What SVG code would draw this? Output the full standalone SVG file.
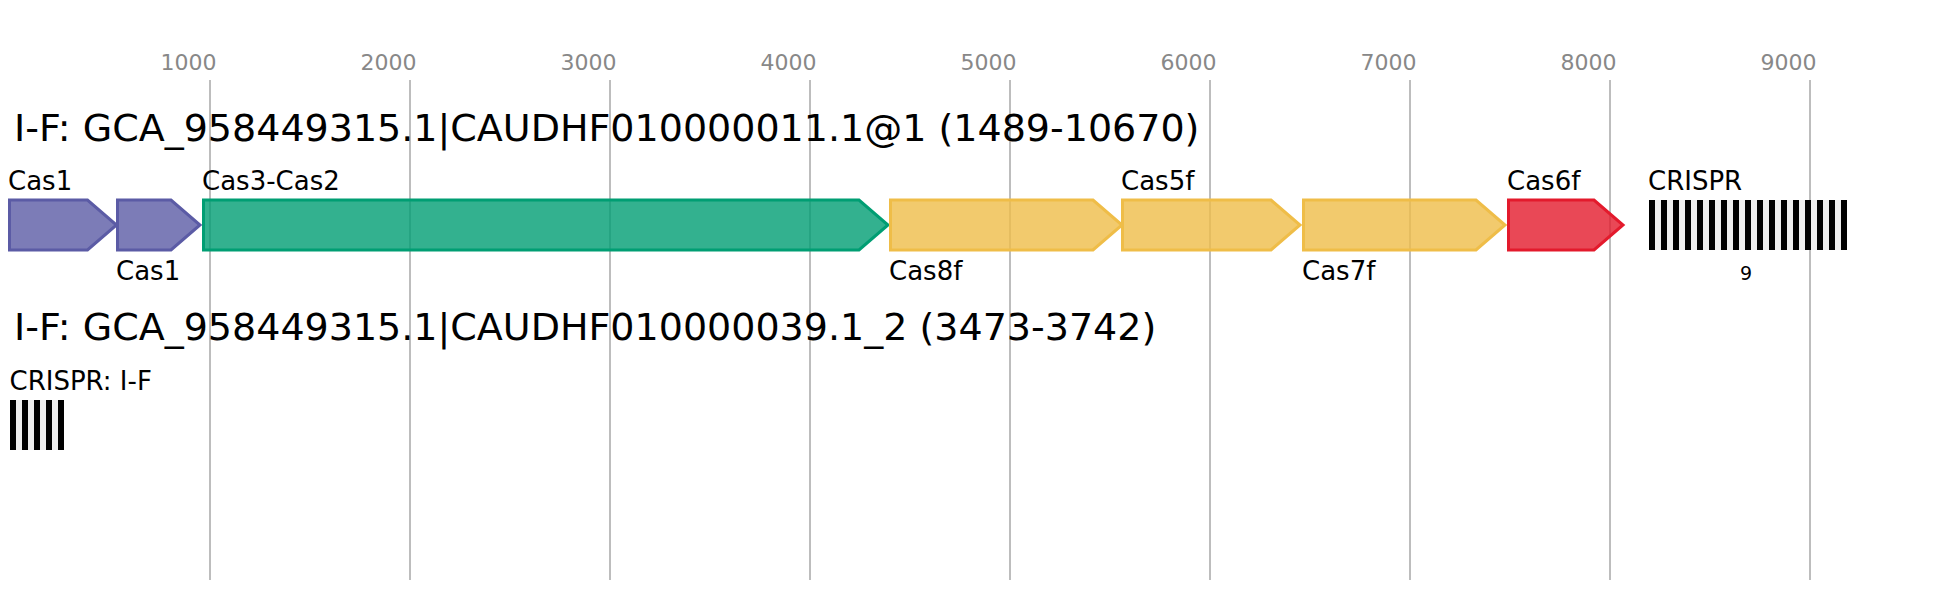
<svg xmlns="http://www.w3.org/2000/svg" width="1936" height="600" viewBox="0 0 1936 600">
<style>
text{font-family:"DejaVu Sans","Liberation Sans",sans-serif;fill:#000}
.grid line{stroke:#bdbdbd;stroke-width:2}
.tick{font-size:22px;fill:#888;text-anchor:end}
.head{font-size:38px}
.lbl{font-size:26px}
.num{font-size:19px;text-anchor:middle}
.gene{stroke-width:3;fill-opacity:0.8;stroke-linejoin:miter}
.purple{fill:#5b5ba5;stroke:#5b5ba5}
.green{fill:#009e73;stroke:#009e73}
.yellow{fill:#efbd48;stroke:#efbd48}
.red{fill:#e31a2c;stroke:#e31a2c}
.rep{fill:#000}
.bg{fill:#eeeeee}
</style>
<rect width="1936" height="600" fill="#fff"/>
<g class="grid" id="axis">
<line x1="210" y1="80" x2="210" y2="580"/>
<line x1="410" y1="80" x2="410" y2="580"/>
<line x1="610" y1="80" x2="610" y2="580"/>
<line x1="810" y1="80" x2="810" y2="580"/>
<line x1="1010" y1="80" x2="1010" y2="580"/>
<line x1="1210" y1="80" x2="1210" y2="580"/>
<line x1="1410" y1="80" x2="1410" y2="580"/>
<line x1="1610" y1="80" x2="1610" y2="580"/>
<line x1="1810" y1="80" x2="1810" y2="580"/>
<text class="tick" x="216.5" y="70">1000</text>
<text class="tick" x="416.5" y="70">2000</text>
<text class="tick" x="616.5" y="70">3000</text>
<text class="tick" x="816.5" y="70">4000</text>
<text class="tick" x="1016.5" y="70">5000</text>
<text class="tick" x="1216.5" y="70">6000</text>
<text class="tick" x="1416.5" y="70">7000</text>
<text class="tick" x="1616.5" y="70">8000</text>
<text class="tick" x="1816.5" y="70">9000</text>
</g>
<text class="head" x="14" y="141">I-F: GCA_958449315.1|CAUDHF010000011.1@1 (1489-10670)</text>
<g id="cas1a">
<polygon class="gene purple" points="9.5,200 87.5,200 116.5,225 87.5,250 9.5,250"/>
<text class="lbl" x="8" y="190">Cas1</text>
</g>
<g id="cas1b">
<polygon class="gene purple" points="117.5,200 171,200 200,225 171,250 117.5,250"/>
<text class="lbl" x="116" y="280">Cas1</text>
</g>
<g id="cas3cas2">
<polygon class="gene green" points="203.5,200 859,200 888,225 859,250 203.5,250"/>
<text class="lbl" x="202" y="190">Cas3-Cas2</text>
</g>
<g id="cas8f">
<polygon class="gene yellow" points="890.5,200 1093,200 1122,225 1093,250 890.5,250"/>
<text class="lbl" x="889" y="280">Cas8f</text>
</g>
<g id="cas5f">
<polygon class="gene yellow" points="1122.5,200 1271,200 1300,225 1271,250 1122.5,250"/>
<text class="lbl" x="1121" y="190">Cas5f</text>
</g>
<g id="cas7f">
<polygon class="gene yellow" points="1303.5,200 1476,200 1505,225 1476,250 1303.5,250"/>
<text class="lbl" x="1302" y="280">Cas7f</text>
</g>
<g id="cas6f">
<polygon class="gene red" points="1508.5,200 1594,200 1623,225 1594,250 1508.5,250"/>
<text class="lbl" x="1507" y="190">Cas6f</text>
</g>
<g id="crispr1">
<rect class="bg" x="1649" y="200" width="198" height="50"/>
<rect class="rep" x="1649" y="200" width="6" height="50"/>
<rect class="rep" x="1661" y="200" width="6" height="50"/>
<rect class="rep" x="1673" y="200" width="6" height="50"/>
<rect class="rep" x="1685" y="200" width="6" height="50"/>
<rect class="rep" x="1697" y="200" width="6" height="50"/>
<rect class="rep" x="1709" y="200" width="6" height="50"/>
<rect class="rep" x="1721" y="200" width="6" height="50"/>
<rect class="rep" x="1733" y="200" width="6" height="50"/>
<rect class="rep" x="1745" y="200" width="6" height="50"/>
<rect class="rep" x="1757" y="200" width="6" height="50"/>
<rect class="rep" x="1769" y="200" width="6" height="50"/>
<rect class="rep" x="1781" y="200" width="6" height="50"/>
<rect class="rep" x="1793" y="200" width="6" height="50"/>
<rect class="rep" x="1805" y="200" width="6" height="50"/>
<rect class="rep" x="1817" y="200" width="6" height="50"/>
<rect class="rep" x="1829" y="200" width="6" height="50"/>
<rect class="rep" x="1841" y="200" width="6" height="50"/>
<text class="lbl" x="1648" y="190">CRISPR</text>
<text class="num" x="1746" y="280">9</text>
</g>
<text class="head" x="14" y="340">I-F: GCA_958449315.1|CAUDHF010000039.1_2 (3473-3742)</text>
<g id="crispr2">
<rect class="bg" x="10" y="400" width="54" height="50"/>
<rect class="rep" x="10" y="400" width="6" height="50"/>
<rect class="rep" x="22" y="400" width="6" height="50"/>
<rect class="rep" x="34" y="400" width="6" height="50"/>
<rect class="rep" x="46" y="400" width="6" height="50"/>
<rect class="rep" x="58" y="400" width="6" height="50"/>
<text class="lbl" x="9.5" y="390">CRISPR: I-F</text>
</g>
</svg>
